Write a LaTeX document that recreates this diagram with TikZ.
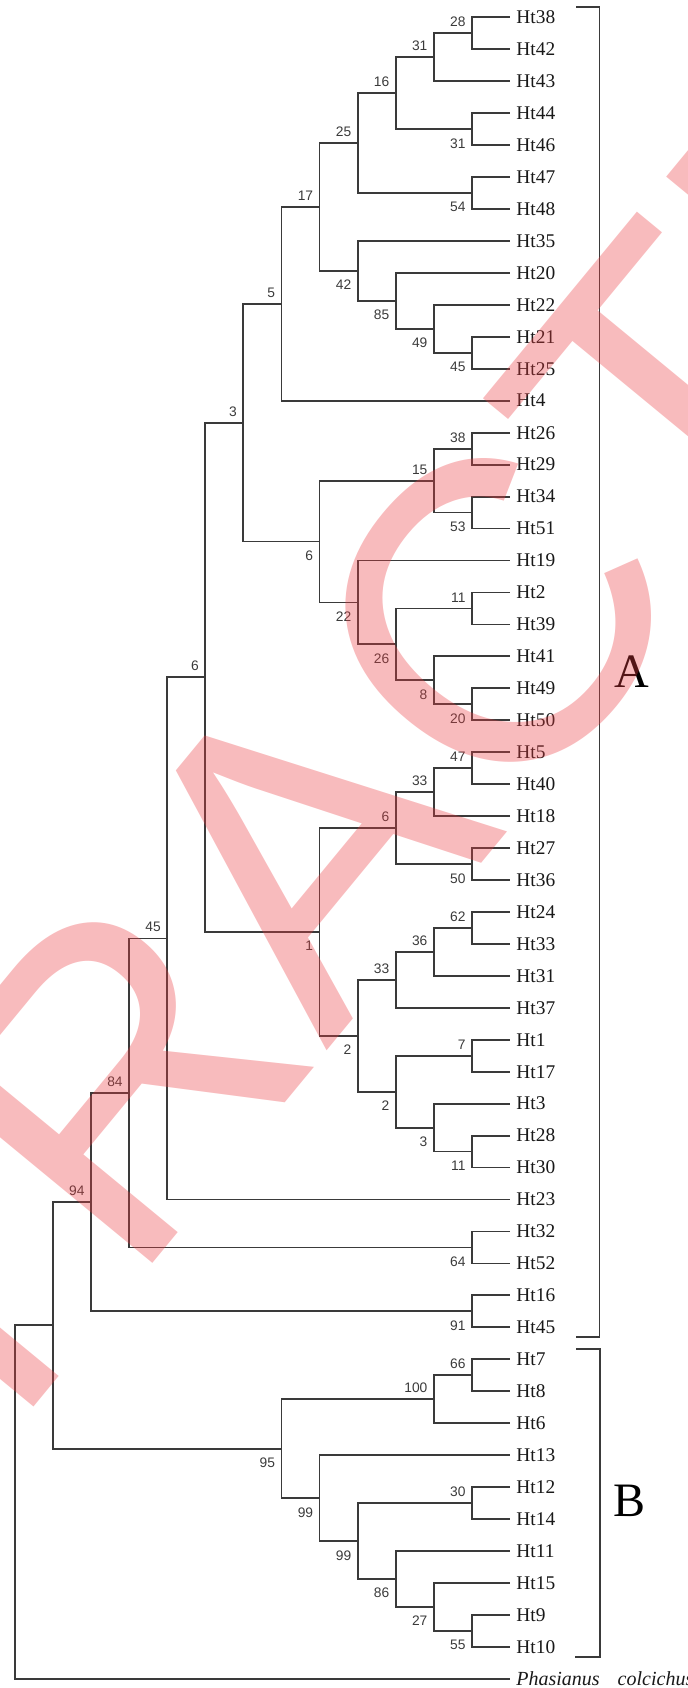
\documentclass[tikz,border=0pt]{standalone}
\usepackage{fontspec}
\setmainfont{Liberation Serif}
\newfontfamily\bsfont{Liberation Sans}
\usetikzlibrary{positioning}
\definecolor{treeline}{HTML}{3A3A3A}
\definecolor{wmred}{HTML}{EB3C41}

\begin{document}
\begin{tikzpicture}[x=0.5pt,y=-0.5pt,
  branch/.style={draw=treeline, line width=0.9pt},
  leaf/.style={anchor=west, inner xsep=3pt, inner ysep=0pt, font=\fontsize{9.7}{10}\selectfont, text=black!90},
  bsup/.style={anchor=south east, inner sep=3pt, font=\bsfont\fontsize{6.9}{7}\selectfont, text=treeline},
  bsdown/.style={anchor=north east, inner sep=3pt, yshift=-1.5pt, font=\bsfont\fontsize{6.9}{7}\selectfont, text=treeline},
  clade/.style={anchor=base west, inner sep=0pt, font=\fontsize{24}{24}\selectfont},
  watermark/.style={rotate=50.5, inner sep=0pt, text=wmred, opacity=0.35, font=\bsfont\fontsize{214}{214}\selectfont}]
\useasboundingbox (0,0) rectangle (688,1688);

\node[leaf] (h38) at (510,17.3) {Ht38};
\node[leaf] (h42) at (510,49.3) {Ht42};
\node[leaf] (h43) at (510,81.2) {Ht43};
\node[leaf] (h44) at (510,113.2) {Ht44};
\node[leaf] (h46) at (510,145.1) {Ht46};
\node[leaf] (h47) at (510,177.1) {Ht47};
\node[leaf] (h48) at (510,209.0) {Ht48};
\node[leaf] (h35) at (510,241.0) {Ht35};
\node[leaf] (h20) at (510,272.9) {Ht20};
\node[leaf] (h22) at (510,304.9) {Ht22};
\node[leaf] (h21) at (510,336.8) {Ht21};
\node[leaf] (h25) at (510,368.8) {Ht25};
\node[leaf] (h4) at (510,400.7) {Ht4};
\node[leaf] (h26) at (510,432.7) {Ht26};
\node[leaf] (h29) at (510,464.6) {Ht29};
\node[leaf] (h34) at (510,496.6) {Ht34};
\node[leaf] (h51) at (510,528.5) {Ht51};
\node[leaf] (h19) at (510,560.5) {Ht19};
\node[leaf] (h2) at (510,592.4) {Ht2};
\node[leaf] (h39) at (510,624.4) {Ht39};
\node[leaf] (h41) at (510,656.3) {Ht41};
\node[leaf] (h49) at (510,688.3) {Ht49};
\node[leaf] (h50) at (510,720.2) {Ht50};
\node[leaf] (h5) at (510,752.2) {Ht5};
\node[leaf] (h40) at (510,784.1) {Ht40};
\node[leaf] (h18) at (510,816.1) {Ht18};
\node[leaf] (h27) at (510,848.0) {Ht27};
\node[leaf] (h36) at (510,880.0) {Ht36};
\node[leaf] (h24) at (510,911.9) {Ht24};
\node[leaf] (h33) at (510,943.9) {Ht33};
\node[leaf] (h31) at (510,975.8) {Ht31};
\node[leaf] (h37) at (510,1007.8) {Ht37};
\node[leaf] (h1) at (510,1039.7) {Ht1};
\node[leaf] (h17) at (510,1071.7) {Ht17};
\node[leaf] (h3) at (510,1103.6) {Ht3};
\node[leaf] (h28) at (510,1135.6) {Ht28};
\node[leaf] (h30) at (510,1167.5) {Ht30};
\node[leaf] (h23) at (510,1199.5) {Ht23};
\node[leaf] (h32) at (510,1231.4) {Ht32};
\node[leaf] (h52) at (510,1263.4) {Ht52};
\node[leaf] (h16) at (510,1295.3) {Ht16};
\node[leaf] (h45) at (510,1327.3) {Ht45};
\node[leaf] (h7) at (510,1359.2) {Ht7};
\node[leaf] (h8) at (510,1391.2) {Ht8};
\node[leaf] (h6) at (510,1423.1) {Ht6};
\node[leaf] (h13) at (510,1455.1) {Ht13};
\node[leaf] (h12) at (510,1487.0) {Ht12};
\node[leaf] (h14) at (510,1519.0) {Ht14};
\node[leaf] (h11) at (510,1550.9) {Ht11};
\node[leaf] (h15) at (510,1582.9) {Ht15};
\node[leaf] (h9) at (510,1614.8) {Ht9};
\node[leaf] (h10) at (510,1646.8) {Ht10};
\node[leaf] (phas) at (510,1678.7) {\fontsize{10}{10}\selectfont\textit{Phasianus}\hspace{9pt}\textit{colcichus}};

\coordinate (n28) at (471.9,33.3);
\coordinate (n31a) at (433.8,57.25);
\coordinate (n31b) at (471.9,129.15);
\coordinate (n16) at (395.7,93.2);
\coordinate (n54) at (471.9,193.05);
\coordinate (n25) at (357.6,143.1);
\coordinate (n45a) at (471.9,352.8);
\coordinate (n49) at (433.8,328.85);
\coordinate (n85) at (395.7,300.9);
\coordinate (n42) at (357.6,270.95);
\coordinate (n17) at (319.5,207.0);
\coordinate (n5) at (281.4,303.85);
\coordinate (n38) at (471.9,448.65);
\coordinate (n53) at (471.9,512.55);
\coordinate (n15) at (433.8,480.6);
\coordinate (n11a) at (471.9,608.4);
\coordinate (n20) at (471.9,704.25);
\coordinate (n8) at (433.8,680.3);
\coordinate (n26) at (395.7,644.35);
\coordinate (n22) at (357.6,602.4);
\coordinate (n6a) at (319.5,541.5);
\coordinate (n3a) at (243.3,422.7);
\coordinate (n47) at (471.9,768.15);
\coordinate (n33a) at (433.8,792.1);
\coordinate (n50) at (471.9,864.0);
\coordinate (n6c) at (395.7,828.05);
\coordinate (n62) at (471.9,927.9);
\coordinate (n36) at (433.8,951.85);
\coordinate (n33b) at (395.7,979.8);
\coordinate (n7) at (471.9,1055.7);
\coordinate (n11b) at (471.9,1151.55);
\coordinate (n3b) at (433.8,1127.6);
\coordinate (n2b) at (395.7,1091.65);
\coordinate (n2a) at (357.6,1035.7);
\coordinate (n1) at (319.5,931.9);
\coordinate (n6b) at (205.2,677.3);
\coordinate (n45b) at (167.1,938.4);
\coordinate (n64) at (471.9,1247.4);
\coordinate (n84) at (129.0,1092.9);
\coordinate (n91) at (471.9,1311.3);
\coordinate (n94) at (90.9,1202.1);
\coordinate (n66) at (471.9,1375.2);
\coordinate (n100) at (433.8,1399.15);
\coordinate (n30) at (471.9,1503.0);
\coordinate (n55) at (471.9,1630.8);
\coordinate (n27) at (433.8,1606.85);
\coordinate (n86) at (395.7,1578.9);
\coordinate (n99b) at (357.6,1540.95);
\coordinate (n99a) at (319.5,1498.0);
\coordinate (n95) at (281.4,1448.6);
\coordinate (nin) at (52.8,1325.35);
\coordinate (nroot) at (14.7,1502.0);

\draw[branch] (n28) |- (h38.west) (n28) |- (h42.west);
\draw[branch] (n31a) |- (n28) (n31a) |- (h43.west);
\draw[branch] (n31b) |- (h44.west) (n31b) |- (h46.west);
\draw[branch] (n16) |- (n31a) (n16) |- (n31b);
\draw[branch] (n54) |- (h47.west) (n54) |- (h48.west);
\draw[branch] (n25) |- (n16) (n25) |- (n54);
\draw[branch] (n45a) |- (h21.west) (n45a) |- (h25.west);
\draw[branch] (n49) |- (h22.west) (n49) |- (n45a);
\draw[branch] (n85) |- (h20.west) (n85) |- (n49);
\draw[branch] (n42) |- (h35.west) (n42) |- (n85);
\draw[branch] (n17) |- (n25) (n17) |- (n42);
\draw[branch] (n5) |- (n17) (n5) |- (h4.west);
\draw[branch] (n38) |- (h26.west) (n38) |- (h29.west);
\draw[branch] (n53) |- (h34.west) (n53) |- (h51.west);
\draw[branch] (n15) |- (n38) (n15) |- (n53);
\draw[branch] (n11a) |- (h2.west) (n11a) |- (h39.west);
\draw[branch] (n20) |- (h49.west) (n20) |- (h50.west);
\draw[branch] (n8) |- (h41.west) (n8) |- (n20);
\draw[branch] (n26) |- (n11a) (n26) |- (n8);
\draw[branch] (n22) |- (h19.west) (n22) |- (n26);
\draw[branch] (n6a) |- (n15) (n6a) |- (n22);
\draw[branch] (n3a) |- (n5) (n3a) |- (n6a);
\draw[branch] (n47) |- (h5.west) (n47) |- (h40.west);
\draw[branch] (n33a) |- (n47) (n33a) |- (h18.west);
\draw[branch] (n50) |- (h27.west) (n50) |- (h36.west);
\draw[branch] (n6c) |- (n33a) (n6c) |- (n50);
\draw[branch] (n62) |- (h24.west) (n62) |- (h33.west);
\draw[branch] (n36) |- (n62) (n36) |- (h31.west);
\draw[branch] (n33b) |- (n36) (n33b) |- (h37.west);
\draw[branch] (n7) |- (h1.west) (n7) |- (h17.west);
\draw[branch] (n11b) |- (h28.west) (n11b) |- (h30.west);
\draw[branch] (n3b) |- (h3.west) (n3b) |- (n11b);
\draw[branch] (n2b) |- (n7) (n2b) |- (n3b);
\draw[branch] (n2a) |- (n33b) (n2a) |- (n2b);
\draw[branch] (n1) |- (n6c) (n1) |- (n2a);
\draw[branch] (n6b) |- (n3a) (n6b) |- (n1);
\draw[branch] (n45b) |- (n6b) (n45b) |- (h23.west);
\draw[branch] (n64) |- (h32.west) (n64) |- (h52.west);
\draw[branch] (n84) |- (n45b) (n84) |- (n64);
\draw[branch] (n91) |- (h16.west) (n91) |- (h45.west);
\draw[branch] (n94) |- (n84) (n94) |- (n91);
\draw[branch] (n66) |- (h7.west) (n66) |- (h8.west);
\draw[branch] (n100) |- (n66) (n100) |- (h6.west);
\draw[branch] (n30) |- (h12.west) (n30) |- (h14.west);
\draw[branch] (n55) |- (h9.west) (n55) |- (h10.west);
\draw[branch] (n27) |- (h15.west) (n27) |- (n55);
\draw[branch] (n86) |- (h11.west) (n86) |- (n27);
\draw[branch] (n99b) |- (n30) (n99b) |- (n86);
\draw[branch] (n99a) |- (h13.west) (n99a) |- (n99b);
\draw[branch] (n95) |- (n100) (n95) |- (n99a);
\draw[branch] (nin) |- (n94) (nin) |- (n95);
\draw[branch] (nroot) |- (nin) (nroot) |- (phas.west);

\node[bsup] (v28) at (n28) {28};
\node[bsup] (v31a) at (n31a) {31};
\node[bsdown] (v31b) at (n31b) {31};
\node[bsup] (v16) at (n16) {16};
\node[bsdown] (v54) at (n54) {54};
\node[bsup] (v25) at (n25) {25};
\node[bsdown] (v45a) at (n45a) {45};
\node[bsdown] (v49) at (n49) {49};
\node[bsdown] (v85) at (n85) {85};
\node[bsdown] (v42) at (n42) {42};
\node[bsup] (v17) at (n17) {17};
\node[bsup] (v5) at (n5) {5};
\node[bsup] (v38) at (n38) {38};
\node[bsdown] (v53) at (n53) {53};
\node[bsup] (v15) at (n15) {15};
\node[bsup] (v11a) at (n11a) {11};
\node[bsdown] (v20) at (n20) {20};
\node[bsdown] (v8) at (n8) {8};
\node[bsdown] (v26) at (n26) {26};
\node[bsdown] (v22) at (n22) {22};
\node[bsdown] (v6a) at (n6a) {6};
\node[bsup] (v3a) at (n3a) {3};
\node[bsup] (v47) at (n47) {47};
\node[bsup] (v33a) at (n33a) {33};
\node[bsdown] (v50) at (n50) {50};
\node[bsup] (v6c) at (n6c) {6};
\node[bsup] (v62) at (n62) {62};
\node[bsup] (v36) at (n36) {36};
\node[bsup] (v33b) at (n33b) {33};
\node[bsup] (v7) at (n7) {7};
\node[bsdown] (v11b) at (n11b) {11};
\node[bsdown] (v3b) at (n3b) {3};
\node[bsdown] (v2b) at (n2b) {2};
\node[bsdown] (v2a) at (n2a) {2};
\node[bsdown] (v1) at (n1) {1};
\node[bsup] (v6b) at (n6b) {6};
\node[bsup] (v45b) at (n45b) {45};
\node[bsdown] (v64) at (n64) {64};
\node[bsup] (v84) at (n84) {84};
\node[bsdown] (v91) at (n91) {91};
\node[bsup] (v94) at (n94) {94};
\node[bsup] (v66) at (n66) {66};
\node[bsup] (v100) at (n100) {100};
\node[bsup] (v30) at (n30) {30};
\node[bsdown] (v55) at (n55) {55};
\node[bsdown] (v27) at (n27) {27};
\node[bsdown] (v86) at (n86) {86};
\node[bsdown] (v99b) at (n99b) {99};
\node[bsdown] (v99a) at (n99a) {99};
\node[bsdown] (v95) at (n95) {95};

\draw[branch] (576,6.7) -- (599.5,6.7) -- (599.5,1337.3) -- (576,1337.3);
\draw[branch] (576,1349) -- (600,1349) -- (600,1656.7) -- (575,1656.7);
\node[clade] (cladeA) at (614,687) {A};
\node[clade] (cladeB) at (613,1516.7) {B};

\node[watermark] (stampmark) at (304,848) {RETRACTED};
\end{tikzpicture}
\end{document}
